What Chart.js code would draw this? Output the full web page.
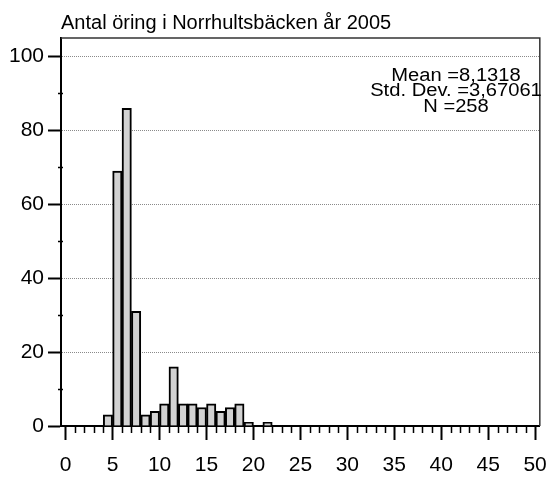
<!DOCTYPE html>
<html>
<head>
<meta charset="utf-8">
<script src="https://cdn.jsdelivr.net/npm/chart.js@4.4.0/dist/chart.umd.min.js"></script>
<style>
  html, body { margin: 0; padding: 0; background: #fff; }
  #wrap { width: 560px; height: 477px; }
</style>
</head>
<body>
<div id="wrap"><canvas id="c" width="560" height="477"></canvas></div>
<script>
const titleText = "Antal öring i Norrhultsbäcken år 2005";
const binCenters = [4.5, 5.5, 6.5, 7.5, 8.5, 9.5, 10.5, 11.5, 12.5, 13.5, 14.5, 15.5, 16.5, 17.5, 18.5, 19.5, 20.5, 21.5];
const counts =     [3,   69,  86,  31,  3,   4,   6,    16,   6,    6,    5,    6,    4,    5,    6,    1,    0,    1];
const xTickValues = [0, 5, 10, 15, 20, 25, 30, 35, 40, 45, 50];
const xMinorValues = [];
for (let v = 0; v <= 50; v++) if (v % 5 !== 0) xMinorValues.push(v);
const yTickValues = [0, 20, 40, 60, 80, 100];
const yMinorValues = [10, 30, 50, 70, 90];
const statsLines = ["Mean =8,1318", "Std. Dev. =3,67061", "N =258"];

const FONT = "'Liberation Sans', Arial, Helvetica, sans-serif";

const decorPlugin = {
  id: 'decor',
  afterDraw(chart) {
    const ctx = chart.ctx;
    const a = chart.chartArea;
    const xs = chart.scales.x, ys = chart.scales.y;
    ctx.save();
    // frame top/right
    ctx.strokeStyle = '#333';
    ctx.lineWidth = 1.5;
    ctx.beginPath();
    ctx.moveTo(a.left, a.top); ctx.lineTo(a.right, a.top); ctx.lineTo(a.right, a.bottom);
    ctx.stroke();
    // minor ticks
    ctx.strokeStyle = '#000';
    ctx.lineWidth = 1.5;
    ctx.beginPath();
    xMinorValues.forEach(v => {
      const px = Math.round(xs.getPixelForValue(v)) + 0.5;
      ctx.moveTo(px, a.bottom); ctx.lineTo(px, a.bottom + 7);
    });
    yMinorValues.forEach(v => {
      const py = Math.round(ys.getPixelForValue(v)) + 0.5;
      ctx.moveTo(a.left - 3, py); ctx.lineTo(a.left + 2, py);
    });
    ctx.stroke();
    // stats text
    ctx.fillStyle = '#000';
    ctx.font = "18px " + FONT;
    ctx.textAlign = 'center';
    ctx.textBaseline = 'middle';
    const cx = 456;
    statsLines.forEach((t, i) => {
      ctx.save();
      ctx.translate(cx, 76 + i * 15.5);
      ctx.scale(1.12, 1);
      ctx.fillText(t, 0, 0);
      ctx.restore();
    });
    ctx.restore();
  }
};

new Chart(document.getElementById('c'), {
  type: 'bar',
  data: {
    datasets: [{
      data: binCenters.map((x, i) => ({ x: x, y: counts[i] })),
      backgroundColor: '#d2d2d2',
      borderColor: '#000',
      borderWidth: 2,
      barPercentage: 1.0,
      categoryPercentage: 1.0
    }]
  },
  options: {
    responsive: false,
    animation: false,
    devicePixelRatio: 1,
    layout: { padding: { left: 0, right: 11, top: 0, bottom: 0 } },
    plugins: {
      legend: { display: false },
      tooltip: { enabled: false },
      title: {
        display: true,
        fullSize: false,
        text: titleText,
        align: 'start',
        color: '#000',
        font: { family: FONT, size: 20, weight: 'normal' },
        padding: { top: 11, bottom: 3 }
      }
    },
    scales: {
      x: {
        type: 'linear',
        offset: false,
        min: -0.5,
        max: 50.5,
        afterBuildTicks: (s) => { s.ticks = xTickValues.map(v => ({ value: v })); },
        afterFit: (s) => { s.height = 51; },
        ticks: {
          autoSkip: false,
          maxRotation: 0,
          color: '#000',
          padding: 13,
          font: { family: FONT, size: 21 }
        },
        grid: { display: true, offset: false, drawOnChartArea: false, drawTicks: true, tickLength: 14, tickColor: '#000', tickWidth: 2 },
        border: { display: true, color: '#000', width: 2 }
      },
      y: {
        min: 0,
        max: 105,
        afterBuildTicks: (s) => { s.ticks = yTickValues.map(v => ({ value: v })); },
        afterFit: (s) => { s.width = 61; },
        ticks: {
          color: '#000',
          padding: 4,
          font: { family: FONT, size: 21 }
        },
        grid: {
          display: true,
          offset: false,
          color: (c) => c.tick && c.tick.value === 0 ? 'rgba(0,0,0,0)' : '#8a8a8a',
          lineWidth: 1,
          tickBorderDash: [],
          tickLength: 13,
          tickColor: '#000',
          tickWidth: 2
        },
        border: { display: true, color: '#000', width: 2, dash: [1, 1] }
      }
    }
  },
  plugins: [decorPlugin]
});
</script>
</body>
</html>
